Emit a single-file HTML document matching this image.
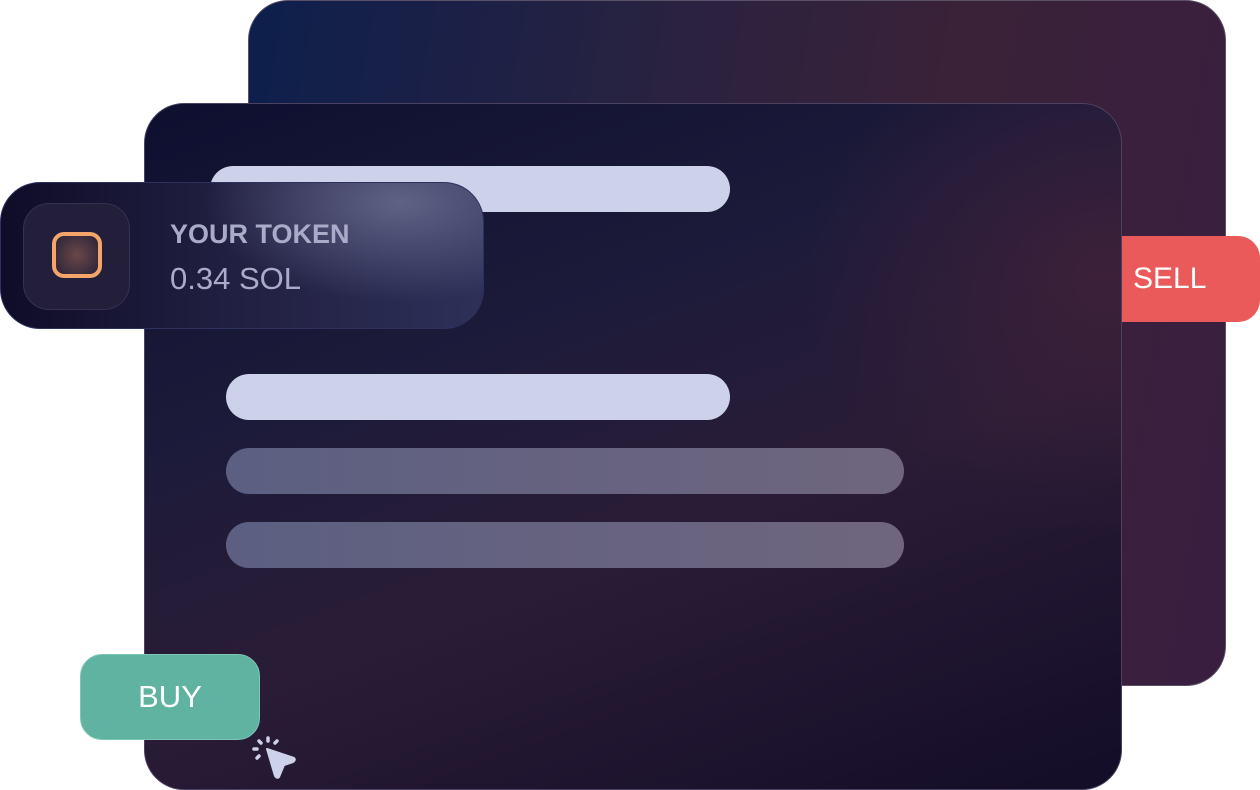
<!DOCTYPE html>
<html><head><style>
body{margin:0;width:1260px;height:790px;background:#fff;position:relative;overflow:hidden;font-family:"Liberation Sans",sans-serif}
div{position:absolute;box-sizing:border-box}
.back{left:248px;top:0;width:978px;height:686px;border-radius:40px;border:1.5px solid #5a5068;
background:linear-gradient(100deg,#0d1f4c 0%,#2a2240 40%,#3a2238 65%,#3a1e40 100%)}
.front{left:144px;top:103px;width:978px;height:687px;border-radius:40px;border:1.5px solid #4a4260;
background:radial-gradient(ellipse 300px 260px at 960px 170px,rgba(70,34,58,.7),rgba(0,0,0,0)),linear-gradient(160deg,#0e0f30 0%,#1d1b3a 35%,#2a1c36 60%,#130d28 100%)}
.bar{border-radius:23px;height:46px}
.sell{left:1100px;top:236px;width:160px;height:86px;border-radius:22px;background:#ea5a5a;color:#fff;font-size:30px;line-height:86px;padding-left:33px}
.buy{left:80px;top:654px;width:180px;height:86px;border-radius:22px;background:#5fb3a0;border:1.5px solid #7cc8b5;color:#fff;font-size:31px;line-height:84px;text-align:center}
.tok{left:0;top:182px;width:484px;height:147px;border-radius:40px;border:1.5px solid #2e3060;
background:radial-gradient(ellipse 220px 110px at 400px 20px,#5f6185,rgba(40,42,80,0) 90%),linear-gradient(90deg,#0f0c28 0%,#1f1d3e 40%,#2e3058 100%)}
</style></head><body>
<div class="back"></div>
<div class="sell">SELL</div>
<div class="front"></div>
<div class="bar" style="left:210px;top:166px;width:520px;background:#cdd1ea"></div>
<div class="bar" style="left:226px;top:374px;width:504px;background:#cdd1ea"></div>
<div class="bar" style="left:226px;top:448px;width:678px;background:linear-gradient(90deg,#5c5f82,#6f667e)"></div>
<div class="bar" style="left:226px;top:522px;width:678px;background:linear-gradient(90deg,#5c5f82,#6f667e)"></div>
<div class="tok">
 <div style="left:22px;top:20px;width:107px;height:107px;border-radius:26px;background:#231f3a;border:1.5px solid #34324e"></div>
 <div style="left:51px;top:49px;width:50px;height:46px;border-radius:12px;border:4px solid #f5a56a;background:radial-gradient(circle,#6a4848,#2a2238)"></div>
 <div style="left:169px;top:36px;color:#a9abc8;font-size:27px;font-weight:bold">YOUR TOKEN</div>
 <div style="left:169px;top:78px;color:#a9abc8;font-size:31px">0.34 SOL</div>
</div>
<div class="buy">BUY</div>
<svg style="position:absolute;left:250px;top:735px" width="50" height="45" viewBox="0 0 50 45">
<g stroke="#cdd1ea" stroke-width="3.5" stroke-linecap="round">
<line x1="18" y1="3" x2="18" y2="6"/><line x1="9" y1="6" x2="11" y2="8"/><line x1="27" y1="6" x2="25" y2="8"/>
<line x1="4" y1="14" x2="7" y2="14"/><line x1="7" y1="23" x2="9" y2="21"/></g>
<path d="M17 14 L44 23 Q46 25 43 27 L34 30 L29 42 Q27 44 25 41 Z" fill="#cdd1ea" stroke="#cdd1ea" stroke-linejoin="round" stroke-width="2"/>
</svg>
</body></html>
